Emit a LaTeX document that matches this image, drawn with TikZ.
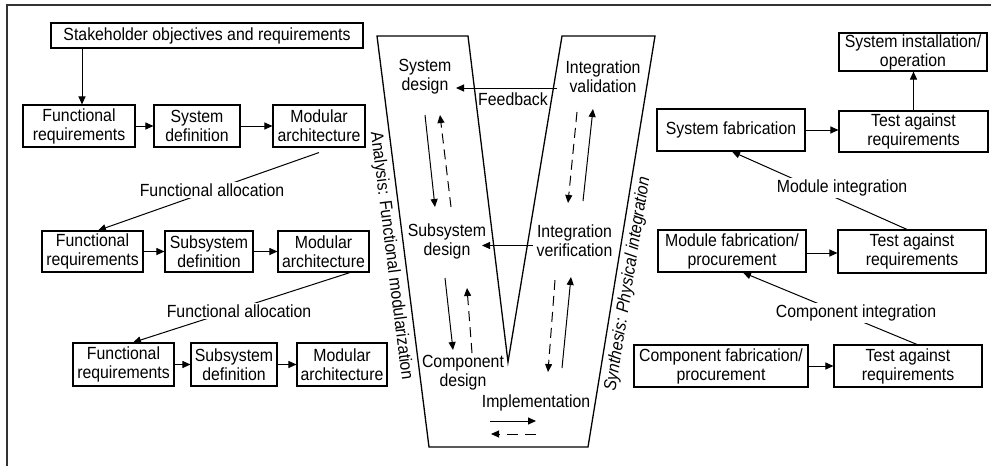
\documentclass[tikz,border=0pt]{standalone}
\usepackage{fontspec}
\setmainfont{Liberation Sans}[FakeStretch=0.9]
\usetikzlibrary{arrows.meta}

\tikzset{
  base/.style={font=\fontsize{17.6}{19}\selectfont},
  box/.style={base, draw, line width=1.1pt, inner sep=0pt, align=center},
  lab/.style={base, fill=white, inner sep=2pt},
  stage/.style={base, align=center, inner sep=0pt},
  conn/.style={line width=1pt},
  arr/.style={conn, -{Triangle[length=8pt,width=7pt]}},
  dsh/.style={arr, dash pattern=on 10pt off 6pt},
  vshape/.style={line width=1.3pt},
  frame/.style={line width=1.3pt, black!80},
}

\begin{document}
\begin{tikzpicture}[x=1pt,y=-1pt]
\useasboundingbox (0,0) rectangle (991,466);

% outer frame (top and left sides)
\draw[frame] (7,467) -- (7,5) -- (992,5);

% ---------- analysis side ----------
\node[box, minimum width=312pt, minimum height=25pt] (stake) at (207,35.5) {Stakeholder objectives and requirements};

\node[box, minimum width=112pt, minimum height=42pt] (fr1) at (79,126) {Functional\\requirements};
\node[box, minimum width=86pt,  minimum height=42pt] (sd1) at (197,126) {System\\definition};
\node[box, minimum width=92pt,  minimum height=42pt] (ma1) at (319,126) {Modular\\architecture};

\node[box, minimum width=101pt, minimum height=41pt] (fr2) at (92.5,251.5) {Functional\\requirements};
\node[box, minimum width=88pt,  minimum height=41pt] (ssd2) at (209,251.5) {Subsystem\\definition};
\node[box, minimum width=91pt,  minimum height=41pt] (ma2) at (323.5,251.5) {Modular\\architecture};

\node[box, minimum width=101pt, minimum height=43pt] (fr3) at (123.5,364.5) {Functional\\requirements};
\node[box, minimum width=86pt,  minimum height=43pt] (ssd3) at (234,364.5) {Subsystem\\definition};
\node[box, minimum width=90pt,  minimum height=43pt] (ma3) at (342,364.5) {Modular\\architecture};

\draw[arr] ([xshift=3pt]fr1.north |- stake.south) -- ([xshift=3pt]fr1.north);
\draw[arr] (fr1.east) -- (sd1.west);
\draw[arr] (sd1.east) -- (ma1.west);
\draw[arr] (fr2.east) -- (ssd2.west);
\draw[arr] (ssd2.east) -- (ma2.west);
\draw[arr] (fr3.east) -- (ssd3.west);
\draw[arr] (ssd3.east) -- (ma3.west);

\draw[arr] ([yshift=-5pt]ma1.south) -- ([xshift=5.5pt]fr2.north);
\node[lab] (fa1) at (212,190) {Functional allocation};
\draw[arr] ([xshift=26.5pt]ma2.south) -- ([xshift=9.5pt]fr3.north);
\node[lab] (fa2) at (239,311) {Functional allocation};

% ---------- the V ----------
\draw[vshape] (377,36) -- (468,36) -- (508,362) -- (562,36) -- (655,36)
  -- (588,447) -- (429,447) -- cycle;

\node[base, rotate=-82.8, inner sep=0pt] (anl) at (391,256) {Analysis: Functional modularization};
\node[base, rotate=80.9, inner sep=0pt, font=\fontsize{17.6}{19}\selectfont\itshape] (syn) at (628,284) {Synthesis: Physical integration};

\node[stage] (sysdes) at (425,76.5) {System\\design};
\node[stage] (intval) at (603,76.5) {Integration\\validation};
\node[stage] (subdes) at (447,241) {Subsystem\\design};
\node[stage] (intver) at (574.5,241) {Integration\\verification};
\node[stage] (compdes) at (463,373) {Component\\design};
\node[stage] (impl) at (536,403) {Implementation};

% feedback paths between the two arms
\draw[arr] ([shift={(-46,11.5)}]intval.center) -- ([shift={(31,11.5)}]sysdes.center);
\node[base, inner sep=0pt] (fb) at (513,99) {Feedback};
\draw[arr] ([shift={(-41.5,4.5)}]intver.center) -- ([shift={(35,4.5)}]subdes.center);

% decomposition arrows (left arm)
\draw[arr] ([shift={(0,38.5)}]sysdes.center) -- ([shift={(-12,-34)}]subdes.center);
\draw[dsh] ([shift={(4,-34)}]subdes.center) -- ([shift={(15,38.5)}]sysdes.center);
\draw[arr] ([shift={(-2,37)}]subdes.center) -- ([shift={(-10,-23)}]compdes.center);
\draw[dsh] ([shift={(9,-20)}]compdes.center) -- ([shift={(20,47)}]subdes.center);

% integration arrows (right arm)
\draw[dsh] ([shift={(-26,35.5)}]intval.center) -- ([shift={(-6.5,-38)}]intver.center);
\draw[arr] ([shift={(8.5,-40)}]intver.center) -- ([shift={(-10,32.5)}]intval.center);
\draw[dsh] ([shift={(-19.5,39)}]intver.center) -- ([shift={(12,-31)}]impl.center);
\draw[arr] ([shift={(26,-35)}]impl.center) -- ([shift={(-3.5,36)}]intver.center);

% implementation loop
\draw[arr] ([shift={(-46,18)}]impl.center) -- ([shift={(0,18)}]impl.center);
\draw[arr, dash pattern=on 11pt off 7pt] ([shift={(0,31)}]impl.center) -- ([shift={(-45,31)}]impl.center);

% ---------- synthesis side ----------
\node[box, minimum width=148pt, minimum height=38pt] (install) at (913,52) {System installation/\\operation};
\node[box, minimum width=148pt, minimum height=42pt] (sysfab) at (731,130) {System fabrication};
\node[box, minimum width=149pt, minimum height=41pt] (test1) at (913.5,131.5) {Test against\\requirements};
\node[box, minimum width=148pt, minimum height=42pt] (modfab) at (732,251) {Module fabrication/\\procurement};
\node[box, minimum width=148pt, minimum height=43pt] (test2) at (912,251.5) {Test against\\requirements};
\node[box, minimum width=174pt, minimum height=42pt] (compfab) at (721,366) {Component fabrication/\\procurement};
\node[box, minimum width=148pt, minimum height=42pt] (test3) at (908,366) {Test against\\requirements};

\draw[arr] (sysfab.east) -- (sysfab.east -| test1.west);
\draw[arr] (test1.north) -- (test1.north |- install.south);
\draw[arr] ([yshift=-2pt]modfab.east) -- ([yshift=-2pt]modfab.east -| test2.west);
\draw[arr] (compfab.east) -- (compfab.east -| test3.west);

\draw[arr] ([xshift=-5pt]test2.north) -- ([xshift=1pt]sysfab.south);
\node[lab] (mi) at (842,188) {Module integration};
\draw[arr] ([xshift=9pt]test3.north) -- ([xshift=11pt]modfab.south);
\node[lab] (ci) at (856,313) {Component integration};

\end{tikzpicture}
\end{document}
